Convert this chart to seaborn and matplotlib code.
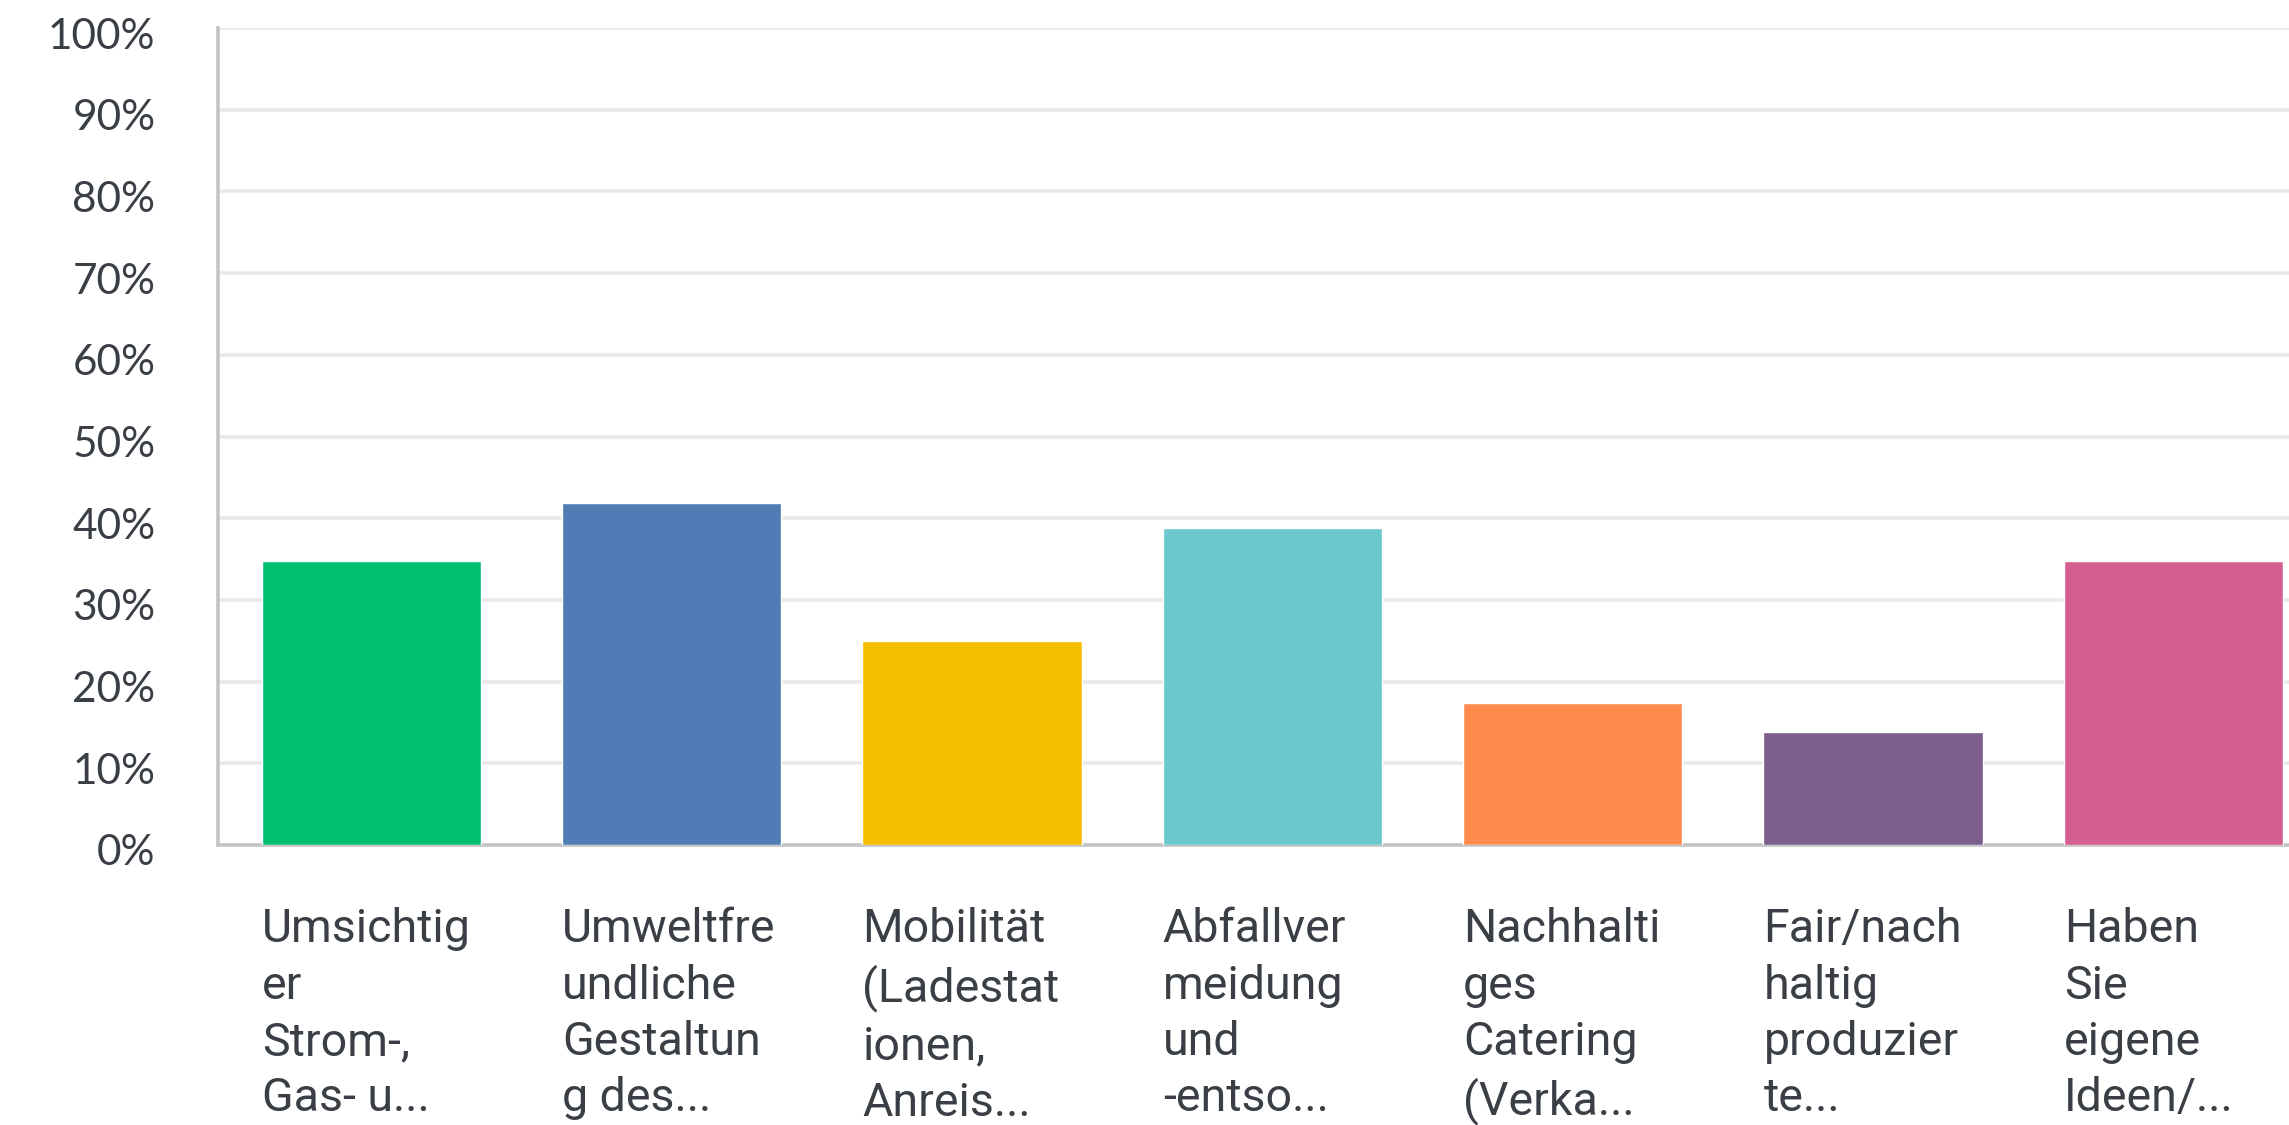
import numpy as np
import pandas as pd
import matplotlib
matplotlib.use("Agg")
import matplotlib.pyplot as plt
import matplotlib.transforms as mtransforms
import seaborn as sns

# Survey answers (share of respondents, %)
categories = [
    "Umsichtig\ner\nStrom-,\nGas- u...",
    "Umweltfre\nundliche\nGestaltun\ng des...",
    "Mobilität\n(Ladestat\nionen,\nAnreis...",
    "Abfallver\nmeidung\nund\n-entso...",
    "Nachhalti\nges\nCatering\n(Verka...",
    "Fair/nach\nhaltig\nproduzier\nte...",
    "Haben\nSie\neigene\nIdeen/...",
]
values = [34.8, 41.8, 25.0, 38.8, 17.4, 13.8, 34.8]
colors = ["#00BF6F", "#507CB6", "#F6BE00", "#6BC8CD", "#FF8B4F", "#7B5E8C", "#D55E90"]
ytick_values = list(range(0, 101, 10))
ytick_labels = [f"{v}%" for v in ytick_values]

sns.set_theme(style="white")
plt.rcParams["font.family"] = ["Lato", "DejaVu Sans"]

text_color = "#3a3f45"
bar_width = 0.73

df = pd.DataFrame({"answer": categories, "share": values})

fig = plt.figure(figsize=(22.89, 11.25), dpi=100)
ax = fig.add_axes([0.0952, 0.2489, 0.9048, 0.7262])

sns.barplot(data=df, x="answer", y="share", hue="answer", palette=colors,
            width=bar_width, legend=False, saturation=1, ax=ax, zorder=3)

ax.set_ylim(0, 100)
ax.set_xlim(-0.511, 6.385)

ax.set_yticks(ytick_values, ytick_labels)
ax.grid(axis="y", color="#e9e9e9", linewidth=2.6, zorder=0)
ax.grid(axis="x", visible=False)

for side in ["top", "right"]:
    ax.spines[side].set_visible(False)
ax.spines["left"].set_color("#c4c4c4")
ax.spines["left"].set_linewidth(2.6)
ax.spines["bottom"].set_color("#c4c4c4")
ax.spines["bottom"].set_linewidth(2.6)

ax.tick_params(axis="y", length=0, pad=45, labelsize=30.5, labelcolor=text_color)
shift_down = mtransforms.ScaledTranslation(0, -5 / 100, fig.dpi_scale_trans)
for lbl in ax.get_yticklabels():
    lbl.set_fontfamily(["Lato", "DejaVu Sans"])
    lbl.set_transform(lbl.get_transform() + shift_down)

# category labels sit under the left edge of each bar
positions = np.arange(len(categories)) - bar_width / 2
ax.set_xticks(positions, categories)
ax.tick_params(axis="x", length=0, pad=45, labelcolor=text_color)
for lbl in ax.get_xticklabels():
    lbl.set_horizontalalignment("left")
    lbl.set_fontfamily(["Roboto", "DejaVu Sans"])
    lbl.set_fontsize(33.5)
    lbl.set_linespacing(1.35)

ax.set_xlabel("")
ax.set_ylabel("")

fig.savefig("out.png", dpi=100, facecolor="white")
